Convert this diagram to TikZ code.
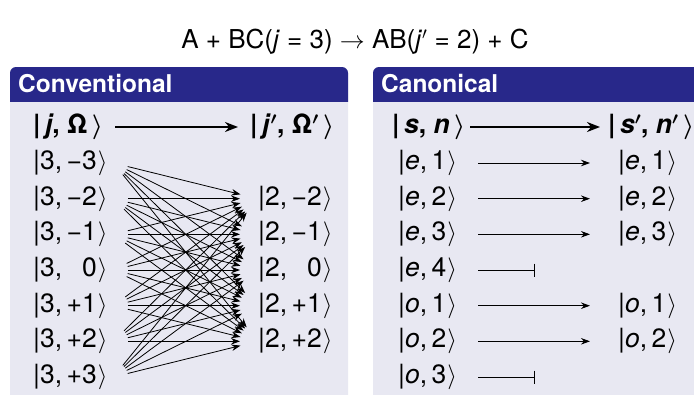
\documentclass[tikz,border=0pt]{standalone}
\usepackage{amsmath}
\usepackage{fontspec}
\setmainfont{TeX Gyre Heros}
\usetikzlibrary{arrows.meta,positioning}
\definecolor{blockhead}{RGB}{40,40,138}
\definecolor{blockbody}{RGB}{232,232,242}
\newcommand{\ketlbl}[2]{\textbar#1,\,#2\kern1pt$\rangle$}
\newcommand{\ketbf}[1]{\textbf{\textbar\,#1\,}$\boldsymbol{\rangle}$}

\begin{document}
\begin{tikzpicture}[x=1pt,y=-1pt]
\tikzset{
  ketnode/.style={anchor=west,inner sep=0pt,font=\fontsize{26.5}{30}\selectfont},
  lketnode/.style={ketnode,text width=80pt},
  cketnode/.style={ketnode,text width=64pt},
  headnode/.style={anchor=west,inner sep=0pt,text=white,font=\fontsize{24.5}{28}\selectfont\bfseries},
  graphedge/.style={draw=black,line width=0.8pt,line cap=round},
  directed/.style={graphedge,-{Stealth[length=9pt,width=6.5pt]}},
  fan/.style={directed,shorten <=15pt,shorten >=18pt},
  canon/.style={directed,shorten <=16pt,shorten >=28pt},
  blocked/.style={graphedge,shorten <=16pt,-{Bar[width=13pt,line width=1pt]}},
  mainarrow/.style={draw=black,line width=2pt,-{Stealth[length=13pt,width=10pt]}}
}
\useasboundingbox (0,0) rectangle (694,394);
\clip (0,0) rectangle (694,394);
\fill[white] (0,0) rectangle (694,394);

% title
\node[inner sep=0pt,font=\fontsize{26}{30}\selectfont] (n_title) at (355,42)
  {A + BC(\textit{j} = 3) $\rightarrow$ AB(\textit{j}$'$ = 2) + C};

% blocks
\fill[blockbody,rounded corners=6pt] (10,67) rectangle (348,430);
\fill[blockbody,rounded corners=6pt] (373,67) rectangle (720,430);
\begin{scope}
  \clip (0,67) rectangle (694,101);
  \fill[blockhead,rounded corners=6pt] (10,67) rectangle (348,430);
  \fill[blockhead,rounded corners=6pt] (373,67) rectangle (720,430);
\end{scope}
\node[headnode] (n_conv) at (18,84) {Conventional};
\node[headnode] (n_canon) at (381,84) {Canonical};

% conventional
\node[ketnode] (n_jO) at (33,127) {\ketbf{\textit{j}, Ω}};
\node[ketnode] (n_jOp) at (250,127) {\ketbf{\textit{j}$^{\boldsymbol\prime}$, Ω$^{\boldsymbol\prime}$}};
\draw[mainarrow,shorten <=12pt,shorten >=12pt] (n_jO) -- (n_jOp);

\node[lketnode] (n_a1) at (33,163) {\ketlbl{3}{−3}};
\node[lketnode] (n_a2) at (33,198.7) {\ketlbl{3}{−2}};
\node[lketnode] (n_a3) at (33,234.3) {\ketlbl{3}{−1}};
\node[lketnode] (n_a4) at (33,270) {\ketlbl{3}{\phantom{+}0}};
\node[lketnode] (n_a5) at (33,305.7) {\ketlbl{3}{+1}};
\node[lketnode] (n_a6) at (33,341.3) {\ketlbl{3}{+2}};
\node[lketnode] (n_a7) at (33,377) {\ketlbl{3}{+3}};
\node[ketnode] (n_b1) at (258,198.7) {\ketlbl{2}{−2}};
\node[ketnode] (n_b2) at (258,234.3) {\ketlbl{2}{−1}};
\node[ketnode] (n_b3) at (258,270) {\ketlbl{2}{\phantom{+}0}};
\node[ketnode] (n_b4) at (258,305.7) {\ketlbl{2}{+1}};
\node[ketnode] (n_b5) at (258,341.3) {\ketlbl{2}{+2}};
\draw[fan] (n_a1.east) -- (n_b1.west);
\draw[fan] (n_a1.east) -- (n_b2.west);
\draw[fan] (n_a1.east) -- (n_b3.west);
\draw[fan] (n_a1.east) -- (n_b4.west);
\draw[fan] (n_a1.east) -- (n_b5.west);
\draw[fan] (n_a2.east) -- (n_b1.west);
\draw[fan] (n_a2.east) -- (n_b2.west);
\draw[fan] (n_a2.east) -- (n_b3.west);
\draw[fan] (n_a2.east) -- (n_b4.west);
\draw[fan] (n_a2.east) -- (n_b5.west);
\draw[fan] (n_a3.east) -- (n_b1.west);
\draw[fan] (n_a3.east) -- (n_b2.west);
\draw[fan] (n_a3.east) -- (n_b3.west);
\draw[fan] (n_a3.east) -- (n_b4.west);
\draw[fan] (n_a3.east) -- (n_b5.west);
\draw[fan] (n_a4.east) -- (n_b1.west);
\draw[fan] (n_a4.east) -- (n_b2.west);
\draw[fan] (n_a4.east) -- (n_b3.west);
\draw[fan] (n_a4.east) -- (n_b4.west);
\draw[fan] (n_a4.east) -- (n_b5.west);
\draw[fan] (n_a5.east) -- (n_b1.west);
\draw[fan] (n_a5.east) -- (n_b2.west);
\draw[fan] (n_a5.east) -- (n_b3.west);
\draw[fan] (n_a5.east) -- (n_b4.west);
\draw[fan] (n_a5.east) -- (n_b5.west);
\draw[fan] (n_a6.east) -- (n_b1.west);
\draw[fan] (n_a6.east) -- (n_b2.west);
\draw[fan] (n_a6.east) -- (n_b3.west);
\draw[fan] (n_a6.east) -- (n_b4.west);
\draw[fan] (n_a6.east) -- (n_b5.west);
\draw[fan] (n_a7.east) -- (n_b1.west);
\draw[fan] (n_a7.east) -- (n_b2.west);
\draw[fan] (n_a7.east) -- (n_b3.west);
\draw[fan] (n_a7.east) -- (n_b4.west);
\draw[fan] (n_a7.east) -- (n_b5.west);

% canonical
\node[ketnode] (n_sn) at (392,127) {\ketbf{\textit{s}, \textit{n}}};
\node[ketnode] (n_snp) at (608,127) {\ketbf{\textit{s}$^{\boldsymbol\prime}$, \textit{n}$^{\boldsymbol\prime}$}};
\draw[mainarrow,shorten <=5pt,shorten >=8pt] (n_sn) -- (n_snp);

\node[cketnode] (n_c1) at (398,163) {\ketlbl{\textit{e}}{1}};
\node[cketnode] (n_c2) at (398,198.7) {\ketlbl{\textit{e}}{2}};
\node[cketnode] (n_c3) at (398,234.3) {\ketlbl{\textit{e}}{3}};
\node[cketnode] (n_c4) at (398,270) {\ketlbl{\textit{e}}{4}};
\node[cketnode] (n_c5) at (398,305.7) {\ketlbl{\textit{o}}{1}};
\node[cketnode] (n_c6) at (398,341.3) {\ketlbl{\textit{o}}{2}};
\node[cketnode] (n_c7) at (398,377) {\ketlbl{\textit{o}}{3}};
\node[ketnode] (n_d1) at (618,163) {\ketlbl{\textit{e}}{1}};
\node[ketnode] (n_d2) at (618,198.7) {\ketlbl{\textit{e}}{2}};
\node[ketnode] (n_d3) at (618,234.3) {\ketlbl{\textit{e}}{3}};
\node[ketnode] (n_d5) at (618,305.7) {\ketlbl{\textit{o}}{1}};
\node[ketnode] (n_d6) at (618,341.3) {\ketlbl{\textit{o}}{2}};
\coordinate (x_e4) at (535,270);
\coordinate (x_o3) at (535,377);
\draw[canon] (n_c1.east) -- (n_d1.west);
\draw[canon] (n_c2.east) -- (n_d2.west);
\draw[canon] (n_c3.east) -- (n_d3.west);
\draw[canon] (n_c5.east) -- (n_d5.west);
\draw[canon] (n_c6.east) -- (n_d6.west);
\draw[blocked] (n_c4.east) -- (x_e4);
\draw[blocked] (n_c7.east) -- (x_o3);
\end{tikzpicture}
\end{document}
